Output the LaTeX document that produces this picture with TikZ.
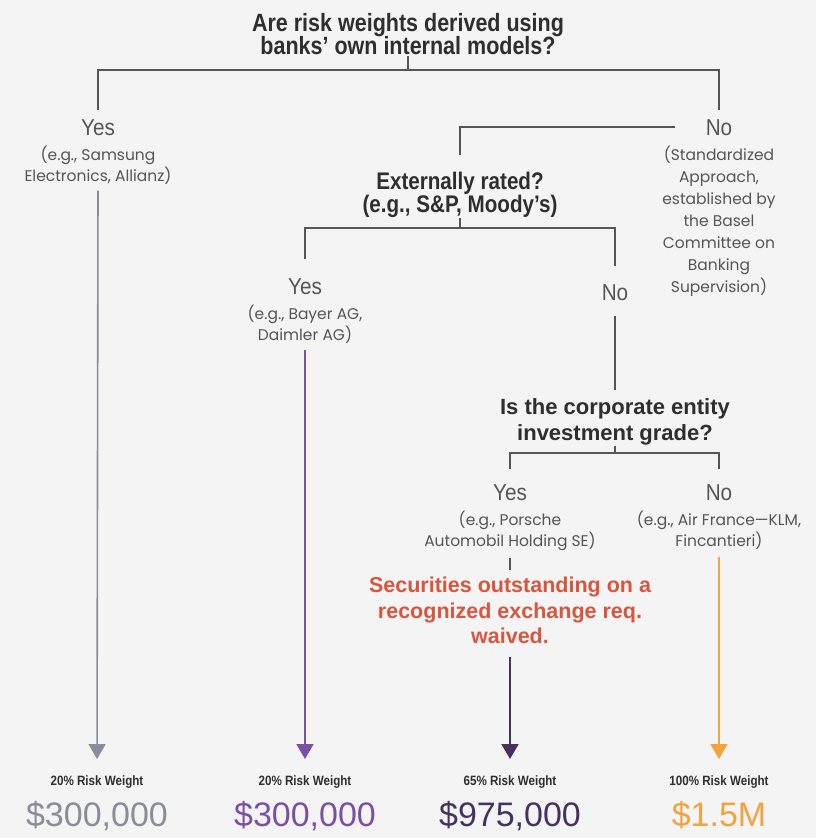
\documentclass[tikz,border=0pt]{standalone}
\usepackage{fontspec}
\setmainfont{Poppins}
\newfontfamily\condfont[FakeStretch=0.86]{Liberation Sans}
\newfontfamily\ansfont[FakeStretch=0.9]{Liberation Sans}
\newfontfamily\numfont{Liberation Sans}
\usetikzlibrary{%
    arrows.meta,%
    positioning%
}

\definecolor{bgcol}{HTML}{F4F4F4}
\definecolor{linecol}{HTML}{555555}
\definecolor{textcol}{HTML}{2E2E2E}
\definecolor{notecol}{HTML}{555555}
\definecolor{greyres}{HTML}{8A8C9A}
\definecolor{purpres}{HTML}{7A50A4}
\definecolor{darkres}{HTML}{43335E}
\definecolor{orangeres}{HTML}{F2A23E}
\definecolor{waivecol}{HTML}{D8553E}

\tikzset{
    tree/.style={draw=linecol, line width=2pt},
    question/.style={font=\condfont\bfseries\fontsize{25}{23.5}\selectfont, text=textcol, align=center, inner sep=1pt, anchor=north},
    answer/.style={font=\ansfont\fontsize{23}{23}\selectfont, text=notecol, inner xsep=2pt, inner ysep=9pt, anchor=base},
    note/.style={font=\fontsize{15.5}{21.5}\selectfont, text=notecol, align=center, inner sep=1pt},
    waiver/.style={font=\numfont\bfseries\fontsize{21.5}{25.5}\selectfont, text=waivecol, align=center, inner sep=1pt, anchor=north},
    weight/.style={font=\condfont\bfseries\fontsize{13.5}{15}\selectfont, text=textcol, inner sep=1pt, anchor=base},
    money/.style={font=\numfont\fontsize{34}{36}\selectfont, inner sep=1pt, anchor=base},
    result/.style={line width=1.6pt, shorten >=15pt, -{Triangle[width=17pt,length=15pt]}},
}

\begin{document}
\begin{tikzpicture}[x=1pt, y=-1pt]
    \fill[bgcol] (0,0) rectangle (816,838);
    \useasboundingbox (0,0) rectangle (816,838);

    % first question
    \node[question] (q1) at (408,12) {Are risk weights derived using\\banks’ own internal models?};
    \coordinate (bar1) at (408,70);

    \node[answer] (yes1) at (98,135) {Yes};
    \node[note, below=0pt of yes1] (yes1n) {(e.g., Samsung\\Electronics, Allianz)};

    \node[answer] (no1) at (719,135) {No};
    \node[note, below=0pt of no1, font=\fontsize{15.5}{22}\selectfont] (no1n) {(Standardized\\Approach,\\established by\\the Basel\\Committee on\\Banking\\Supervision)};

    \draw[tree] (q1.south) -- (bar1);
    \draw[tree] (yes1.north) |- (bar1) -| (no1.north);

    % second question
    \node[question, font=\condfont\bfseries\fontsize{24}{22.5}\selectfont] (q2) at (460,171) {Externally rated?\\(e.g., S\&P, Moody’s)};
    \coordinate (bar2) at (460,228);
    \draw[tree, shorten <=29pt, shorten >=16pt] (no1.west) -| (q2.north);

    \node[answer] (yes2) at (305,294) {Yes};
    \node[note, below=0pt of yes2] (yes2n) {(e.g., Bayer AG,\\Daimler AG)};
    \node[answer] (no2) at (615,300) {No};

    \draw[tree] (q2.south) -- (bar2);
    \draw[tree, shorten <=10pt, shorten >=9pt] (yes2.north) |- (bar2) -| (no2.north);

    % third question
    \node[question, font=\numfont\bfseries\fontsize{22}{26}\selectfont] (q3) at (615,397) {Is the corporate entity\\investment grade?};
    \coordinate (bar3) at (615,453);
    \draw[tree, shorten <=7pt, shorten >=7pt] (no2.south) -- (q3.north);

    \node[answer] (yes3) at (510,500) {Yes};
    \node[note, below=0pt of yes3] (yes3n) {(e.g., Porsche\\Automobil Holding SE)};
    \node[answer] (no3) at (719,500) {No};
    \node[note, below=0pt of no3] (no3n) {(e.g., Air France—KLM,\\Fincantieri)};

    \draw[tree] (q3.south) -- (bar3);
    \draw[tree, shorten <=6pt, shorten >=6pt] (yes3.north) |- (bar3) -| (no3.north);

    \node[waiver] (waive) at (510,576) {Securities outstanding on a\\recognized exchange req.\\waived.};
    \draw[tree, line width=1.5pt, shorten <=6pt, shorten >=6pt] (yes3n.south) -- (waive.north);

    % results
    \node[weight] (w1) at (97,785) {20\% Risk Weight};
    \node[weight] (w2) at (305,785) {20\% Risk Weight};
    \node[weight] (w3) at (510,785) {65\% Risk Weight};
    \node[weight] (w4) at (719,785) {100\% Risk Weight};

    \node[money, text=greyres] (m1) at (97,826) {\$300,000};
    \node[money, text=purpres] (m2) at (305,826) {\$300,000};
    \node[money, text=darkres] (m3) at (510,826) {\$975,000};
    \node[money, text=orangeres] (m4) at (719,826) {\$1.5M};

    \draw[result, greyres, shorten <=5pt] (yes1n.south) -- (w1.north);
    \draw[result, purpres, shorten <=5pt] (yes2n.south) -- (w2.north);
    \draw[result, darkres, shorten <=12pt] (waive.south) -- (w3.north);
    \draw[result, orangeres, shorten <=6pt] (no3n.south) -- (w4.north);
\end{tikzpicture}
\end{document}
